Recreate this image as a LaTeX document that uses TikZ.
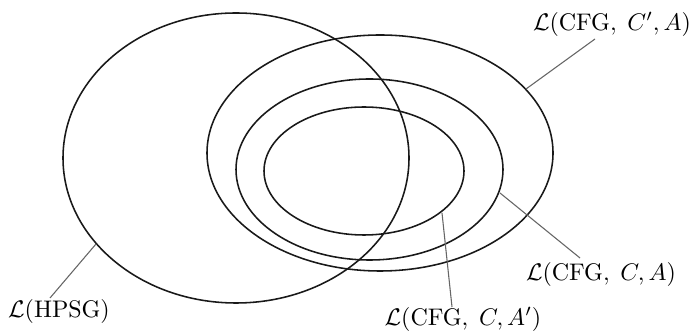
\documentclass[tikz,border=0pt]{standalone}
\begin{document}
\begin{tikzpicture}[x=0.4167pt,y=-0.4167pt,
  setline/.style={line width=0.65pt,black!90},
  leader/.style={line width=0.45pt,black!60},
  lbl/.style={inner sep=0pt,font=\normalsize}]
\useasboundingbox (0,0) rectangle (692,333);
% sets
\draw[setline] (236,158) ellipse [x radius=173,y radius=145];
\draw[setline] (380,153) ellipse [x radius=173,y radius=118];
\draw[setline] (369.5,169.5) ellipse [x radius=133.5,y radius=90.5];
\draw[setline] (364,171) ellipse [x radius=100,y radius=64];
% labels
\node[lbl] (lh) at (59,312) {$\mathcal{L}(\mathrm{HPSG})$};
\node[lbl] (lca1) at (612,24) {$\mathcal{L}(\mathrm{CFG},\;C', A)$};
\node[lbl] (lca) at (601,275) {$\mathcal{L}(\mathrm{CFG},\;C, A)$};
\node[lbl] (lca2) at (463,319) {$\mathcal{L}(\mathrm{CFG},\;C, A')$};
% leader endpoints
\coordinate (s1) at (96,244);
\coordinate (t1) at (50,298);
\coordinate (s2) at (526,89);
\coordinate (t2) at (595,39);
\coordinate (s3) at (500,193);
\coordinate (t3) at (580,258);
\coordinate (s4) at (442,213);
\coordinate (t4) at (452,307);
\draw[leader] (s1) -- (t1);
\draw[leader] (s2) -- (t2);
\draw[leader] (s3) -- (t3);
\draw[leader] (s4) -- (t4);
\end{tikzpicture}
\end{document}
